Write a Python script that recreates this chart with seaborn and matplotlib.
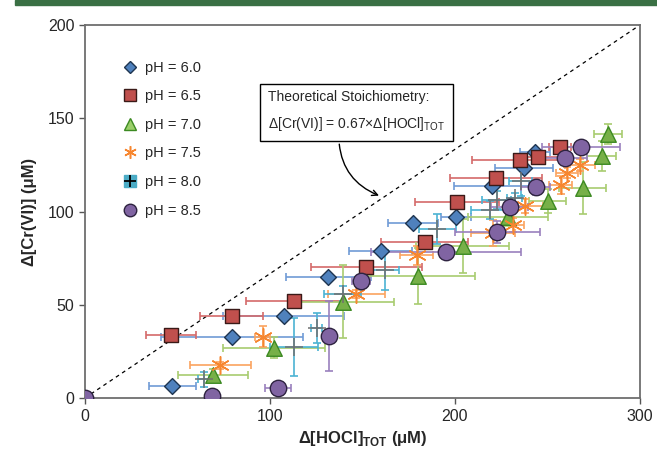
import numpy as np
import pandas as pd
import seaborn as sns
import matplotlib.pyplot as plt
from matplotlib.lines import Line2D
from matplotlib.patches import Rectangle

# data: x = Δ[HOCl]TOT (µM), y = Δ[Cr(VI)] (µM)
ph60_x = [47.2, 79.5, 107.6, 131.7, 160.0, 177.3, 200.5, 219.8, 237.3, 243.2]
ph60_y = [6.6, 32.8, 44.0, 65.1, 78.9, 93.9, 97.3, 113.9, 123.2, 131.8]
ph60_xerr = [12.7, 38.5, 32.7, 23, 17, 13.5, 8, 20, 15.5, 8]
ph60_yerr = [1.5] * 10

ph65_x = [46.6, 79.3, 113.3, 152.0, 183.6, 201.4, 222.2, 235.1, 245.0, 256.8]
ph65_y = [33.7, 44.1, 52.1, 70.2, 83.9, 105.3, 118.2, 127.6, 129.4, 134.4]
ph65_xerr = [13.5, 17, 26.4, 30, 23.6, 22.7, 25, 25.7, 12, 6]
ph65_yerr = [1.5] * 10

ph70_x = [69.4, 102.2, 139.3, 180.3, 204.2, 228.8, 250.1, 269.0, 279.3, 282.9]
ph70_y = [12.5, 27.1, 51.7, 65.5, 81.6, 97.3, 105.7, 112.5, 130.0, 141.6]
ph70_xerr = [19, 27.7, 28, 30.5, 25, 21.6, 10, 12.6, 8, 7.5]
ph70_yerr = [3, 5.8, 19.5, 15, 14.6, 5, 6.5, 14, 8, 5.5]

ph75_x = [73.3, 96.2, 146.8, 179.3, 220.7, 231.2, 237.8, 257.1, 260.4, 267.6]
ph75_y = [17.5, 33.0, 55.9, 76.6, 88.7, 92.8, 103.0, 114.2, 120.8, 125.0]
ph75_xerr = [16.4, 4, 15.3, 9, 12, 6, 10, 6, 6, 8]
ph75_yerr = [2, 5.4, 2, 5, 7, 4, 4, 5, 3, 3]

ph80_x = [64.3, 113.0, 125.4, 139.3, 162.0, 190.6, 218.9, 222.5, 232.4, 235.5]
ph80_y = [10.2, 27.6, 37.5, 55.9, 68.7, 90.5, 100.9, 106.2, 107.2, 116.4]
ph80_xerr = [3, 13, 3, 10, 8, 10, 10, 8, 4, 6]
ph80_yerr = [4, 15.6, 7.9, 4, 10.7, 8, 5, 5, 3, 8]

ph85_x = [0, 69.0, 104.3, 132.0, 149.2, 195.1, 222.9, 229.7, 243.6, 259.6, 268.1]
ph85_y = [0, 1.2, 5.4, 33.4, 63.0, 78.5, 89.1, 102.6, 113.0, 128.6, 134.8]
ph85_xerr = [0, 0, 7, 0, 5, 40.6, 23, 10, 8, 12, 21]
ph85_yerr = [0, 0, 0, 18.6, 2, 2, 6, 3, 4, 2, 2]

labels = ['pH = 6.0', 'pH = 6.5', 'pH = 7.0', 'pH = 7.5', 'pH = 8.0', 'pH = 8.5']

sns.set_style('ticks')
plt.rcParams['font.family'] = ['Liberation Sans', 'DejaVu Sans']

# label, x, y, xerr, yerr, marker, face, edge, errcolor, size
series = [
    (labels[0], ph60_x, ph60_y, ph60_xerr, ph60_yerr, 'D', '#4f81bd', '#1f3550', '#6f9bd6', 65),
    (labels[1], ph65_x, ph65_y, ph65_xerr, ph65_yerr, 's', '#c0504d', '#3a1a18', '#d46a6a', 115),
    (labels[2], ph70_x, ph70_y, ph70_xerr, ph70_yerr, '^', '#77b048', '#3c8a22', '#a8cc70', 125),
    (labels[3], ph75_x, ph75_y, ph75_xerr, ph75_yerr, (6, 2, 0), '#f7862f', '#f7862f', '#fba35f', 160),
    (labels[4], ph80_x, ph80_y, ph80_xerr, ph80_yerr, '+', '#707070', '#707070', '#4bb3d3', 150),
    (labels[5], ph85_x, ph85_y, ph85_xerr, ph85_yerr, 'o', '#8064a2', '#2e2340', '#9a80bd', 140),
]

fig, ax = plt.subplots(figsize=(6.57, 4.55), dpi=100)
fig.subplots_adjust(left=0.129, right=0.974, top=0.945, bottom=0.125)

# theoretical line
ax.plot([0, 300], [0, 200], ls=(0, (3, 3)), color='black', lw=0.9, zorder=1)

for lab, x, y, xe, ye, mk, fc, ec, erc, s in series:
    ax.errorbar(x, y, xerr=xe, yerr=ye, fmt='none', ecolor=erc, elinewidth=1.2,
                capsize=3, capthick=1.2, zorder=2)
    df = pd.DataFrame({'x': x, 'y': y})
    if mk in ('+', (6, 2, 0)):
        sns.scatterplot(data=df, x='x', y='y', marker=mk, s=s, color=fc,
                        linewidth=1.1, ax=ax, zorder=3, legend=False)
    else:
        sns.scatterplot(data=df, x='x', y='y', marker=mk, s=s, color=fc,
                        edgecolor=ec, linewidth=1.0, ax=ax, zorder=3, legend=False)

ax.set_xlim(0, 300)
ax.set_ylim(0, 200)
ax.set_xticks([0, 100, 200, 300])
ax.set_yticks([0, 50, 100, 150, 200])
ax.tick_params(labelsize=11.5, length=4, color='#555555', width=1)
for sp in ax.spines.values():
    sp.set_color('#6e6e6e')
    sp.set_linewidth(1.3)

ax.set_xlabel(r'Δ[HOCl]$_{\mathregular{TOT}}$ (μM)', fontsize=12, fontweight='bold', labelpad=4)
ax.set_ylabel('Δ[Cr(VI)] (μM)', fontsize=12, fontweight='bold', labelpad=8)

# legend
handles = [
    Line2D([], [], ls='none', marker='D', ms=6, mfc='#4f81bd', mec='#1f3550'),
    Line2D([], [], ls='none', marker='s', ms=8, mfc='#c0504d', mec='#3a1a18'),
    Line2D([], [], ls='none', marker='^', ms=8, mfc='#9bcf6a', mec='#3c8a22'),
    Line2D([], [], ls='none', marker=(6, 2, 0), ms=9, mec='#f7862f', mew=1.1),
    (Line2D([], [], ls='none', marker='s', ms=8, mfc='#4bacc6', mec='#4bacc6'),
     Line2D([], [], ls='none', marker='+', ms=8, mec='black', mew=1.3)),
    Line2D([], [], ls='none', marker='o', ms=9, mfc='#8064a2', mec='#2e2340'),
]
ax.legend(handles, labels, loc='upper left', bbox_to_anchor=(0.058, 0.92),
          frameon=False, fontsize=10.5, handlelength=1.0, handletextpad=0.5,
          labelspacing=1.0, borderaxespad=0)

ax.annotate('Theoretical Stoichiometry:\n\n' + r'Δ[Cr(VI)] = 0.67×Δ[HOCl]$_{\mathregular{TOT}}$',
            xy=(160.4, 108), xytext=(99, 142),
            fontsize=10, va='bottom', ha='left', linespacing=0.9,
            bbox=dict(boxstyle='square,pad=0.55', fc='white', ec='black', lw=1),
            arrowprops=dict(arrowstyle='->', color='black', lw=1,
                            connectionstyle='arc3,rad=0.35',
                            relpos=(0.4, 0.0)))

# green header bar
fig.patches.append(Rectangle((0.023, 0.988), 0.977, 0.012, transform=fig.transFigure,
                             color='#3a7044', zorder=0))

plt.savefig('out.png', dpi=100)
